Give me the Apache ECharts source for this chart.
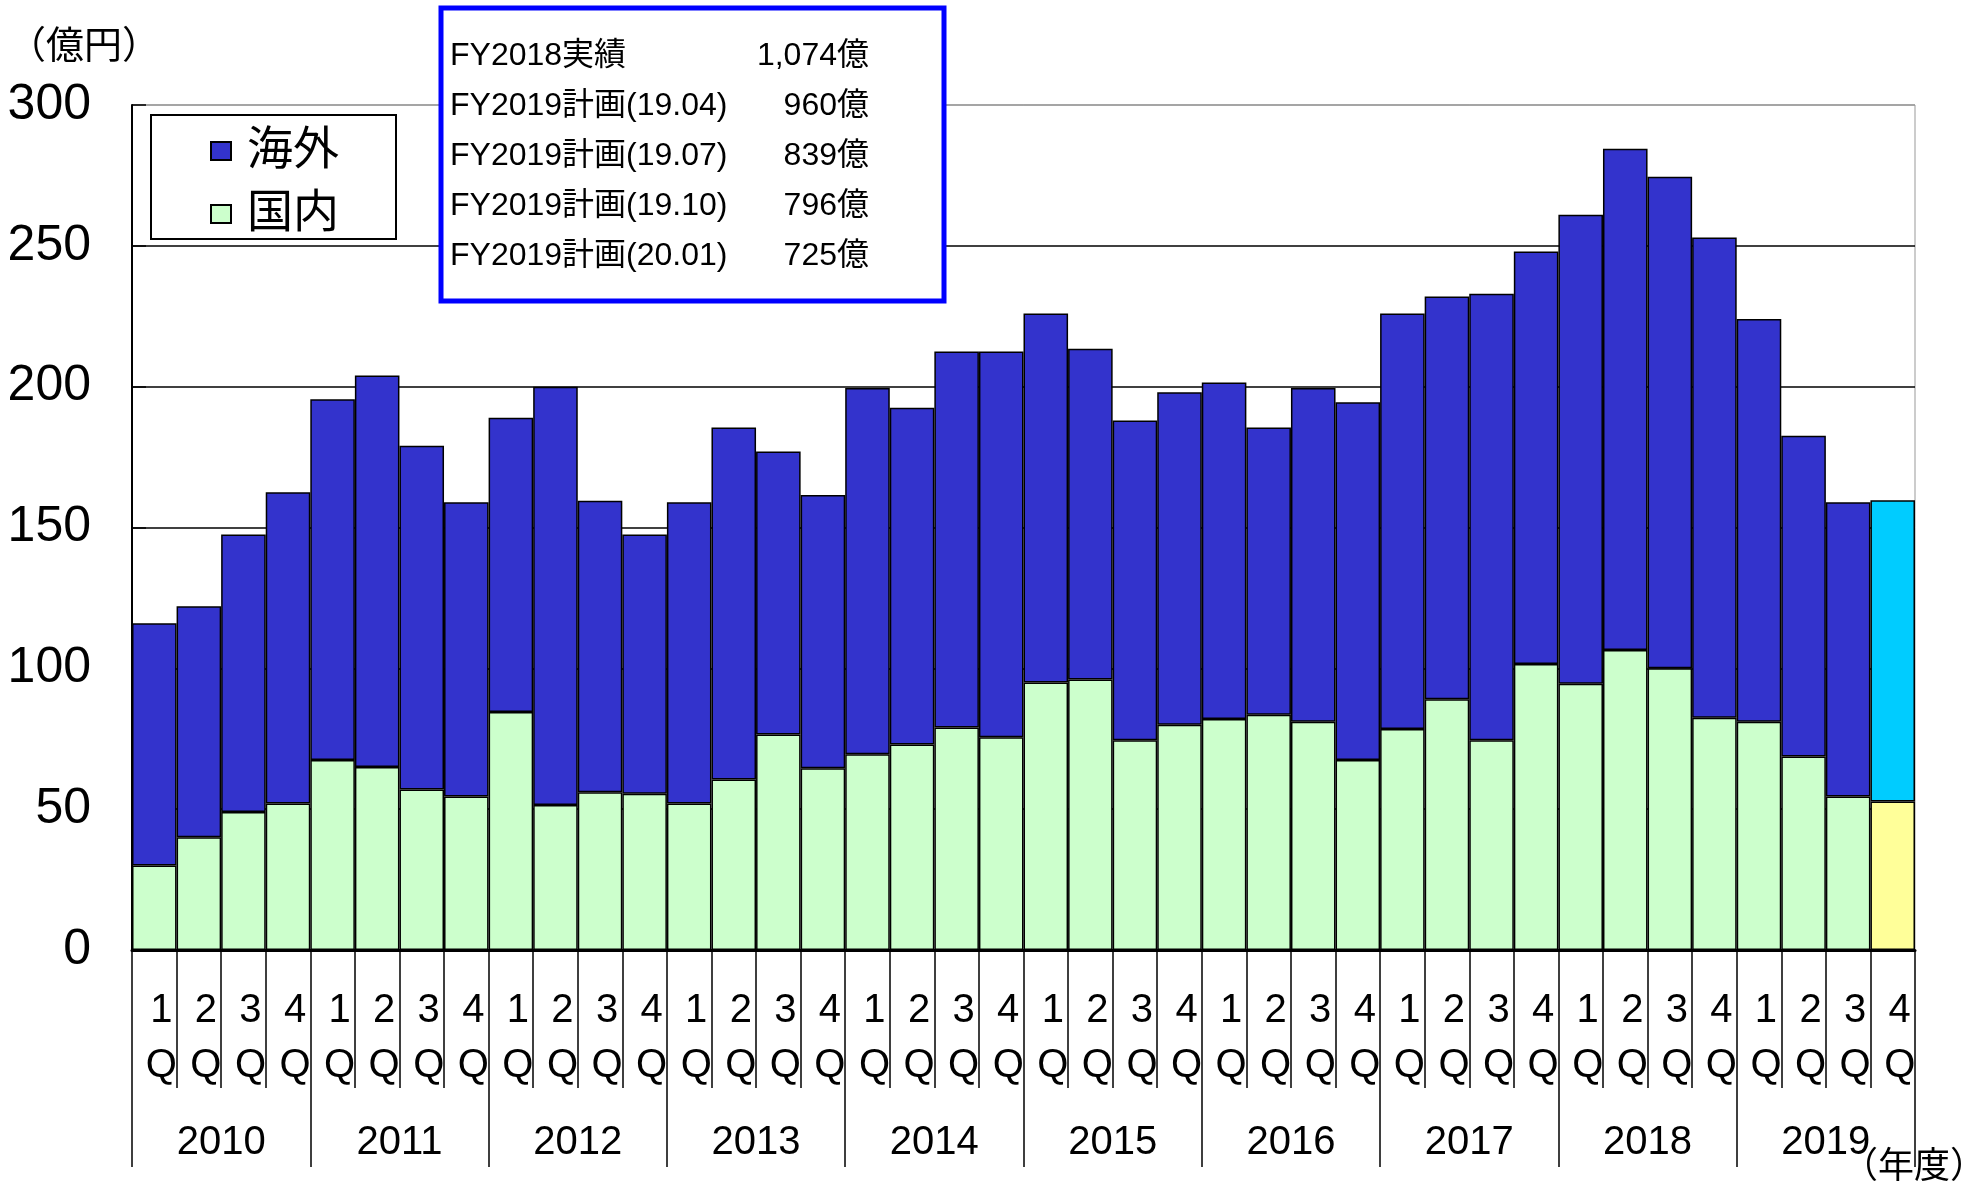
<!DOCTYPE html>
<html>
<head>
<meta charset="utf-8">
<script src="https://cdn.jsdelivr.net/npm/echarts@6/dist/echarts.min.js"></script>
<style>html,body{margin:0;padding:0;background:#fff;}#c{width:1986px;height:1190px;}</style>
</head>
<body>
<div id="c"></div>
<script>
const years = ['2010','2011','2012','2013','2014','2015','2016','2017','2018','2019'];
const quarters = ['1Q','2Q','3Q','4Q'];
const categories = years.flatMap(y => quarters.map(q => y + '-' + q));
const yTicks = [0, 50, 100, 150, 200, 250, 300];

const domestic = [30, 40, 49, 52, 67.5, 65, 57, 54.5, 84.5, 51.5, 56, 55.5, 52, 60.5, 76.5, 64.5,
  69.5, 73, 79, 75.5, 95, 96, 74.5, 80, 82, 83.5, 81, 67.5, 78.5, 89, 74.5, 101.5,
  94.5, 106.5, 100, 82.5, 81, 68.7, 54.5, 52.7];
const overseas = [86, 82, 98.5, 110.5, 128, 139, 122, 104.5, 104.5, 148.5, 103.5, 92, 107, 125, 100.5, 97,
  130, 119.5, 133.5, 137, 131, 117.5, 113.5, 118, 119.5, 102, 118.5, 127, 147.5, 143, 158.5, 146.5,
  166.5, 178, 174.5, 170.5, 143, 113.9, 104.5, 107];

const infoLabels = ['FY2018実績', 'FY2019計画(19.04)', 'FY2019計画(19.07)', 'FY2019計画(19.10)', 'FY2019計画(20.01)'];
const infoValues = ['1,074億', '960億', '839億', '796億', '725億'];

const FONT = '"Liberation Sans", Arial, "Noto Sans CJK JP", sans-serif';
const lastIdx = categories.length - 1;

const domData = domestic.map((v, i) => i === lastIdx ? {value: v, itemStyle: {color: '#FFFF99'}} : v);
const ovData = overseas.map((v, i) => i === lastIdx ? {value: v, itemStyle: {color: '#00CCFF'}} : v);

const graphics = [
  {type: 'text', left: 8, top: 29, z: 10, style: {text: '（億円）', fontSize: 38, fontFamily: FONT, fill: '#000'}},
  {type: 'text', right: 0, top: 1150, z: 10, style: {text: '（年度）', fontSize: 36, fontFamily: FONT, fill: '#000'}},
  {type: 'rect', z: 3, shape: {x: 151, y: 115, width: 245, height: 124}, style: {fill: '#fff', stroke: '#000', lineWidth: 2}},
  {type: 'rect', z: 3, shape: {x: 441, y: 8, width: 503, height: 293}, style: {fill: '#fff', stroke: '#0000FF', lineWidth: 5}}
];
infoLabels.forEach((t, i) => {
  const y = 56.5 + i * 50;
  graphics.push({type: 'text', z: 10, style: {text: t, x: 450, y: y, fontSize: 32, fontFamily: FONT, fill: '#000', align: 'left', verticalAlign: 'middle'}});
  graphics.push({type: 'text', z: 10, style: {text: infoValues[i], x: 869, y: y, fontSize: 32, fontFamily: FONT, fill: '#000', align: 'right', verticalAlign: 'middle'}});
});

const chart = echarts.init(document.getElementById('c'), null, {renderer: 'canvas'});
chart.setOption({
  animation: false,
  backgroundColor: '#fff',
  textStyle: {fontFamily: FONT},
  grid: {left: 132, right: 71, top: 105, bottom: 240, show: true, borderColor: '#999', borderWidth: 1, backgroundColor: 'transparent'},
  legend: {
    data: ['海外', '国内'], orient: 'vertical', left: 205, top: 121, z: 10,
    itemWidth: 20, itemHeight: 18, itemGap: 13, icon: 'rect',
    textStyle: {fontSize: 46, fontWeight: 'normal', color: '#000', lineHeight: 50, padding: [0, 0, 0, 11], fontFamily: FONT}
  },
  xAxis: [
    {
      type: 'category', data: categories, position: 'bottom',
      axisLine: {show: true, lineStyle: {color: '#000', width: 3}},
      axisTick: {show: true, interval: 0, length: 138, lineStyle: {color: '#000', width: 1.5}},
      axisLabel: {interval: 0, margin: 33, fontSize: 40, lineHeight: 55, color: '#000', fontFamily: FONT,
        padding: [0, 0, 0, 14],
        formatter: v => v.split('-')[1].split('').join('\n')},
      splitLine: {show: false}
    },
    {
      type: 'category', data: years, position: 'bottom', offset: 0,
      axisLine: {show: false},
      axisTick: {show: true, interval: 0, length: 217, lineStyle: {color: '#000', width: 1.5}},
      axisLabel: {interval: 0, margin: 171, fontSize: 40, lineHeight: 44, color: '#000', fontFamily: FONT},
      splitLine: {show: false}
    }
  ],
  yAxis: {
    type: 'value', min: yTicks[0], max: yTicks[yTicks.length - 1], interval: 50,
    axisLine: {show: true, lineStyle: {color: '#000', width: 2}},
    axisTick: {show: true, inside: true, length: 14, lineStyle: {color: '#000', width: 1.5}},
    axisLabel: {fontSize: 50, margin: 41, color: '#000', fontFamily: FONT, padding: [6, 0, 0, 0]},
    splitLine: {show: true, lineStyle: {color: ['#000', '#000', '#000', '#000', '#000', '#000', '#999'], width: 1.5}}
  },
  series: [
    {name: '国内', type: 'bar', stack: 'total', xAxisIndex: 0, barCategoryGap: '0%', data: domData,
      itemStyle: {color: '#CCFFCC', borderColor: '#000', borderWidth: 1.5}},
    {name: '海外', type: 'bar', stack: 'total', xAxisIndex: 0, barCategoryGap: '0%', data: ovData,
      itemStyle: {color: '#3333CC', borderColor: '#000', borderWidth: 1.5}}
  ],
  graphic: graphics
});
</script>
</body>
</html>
